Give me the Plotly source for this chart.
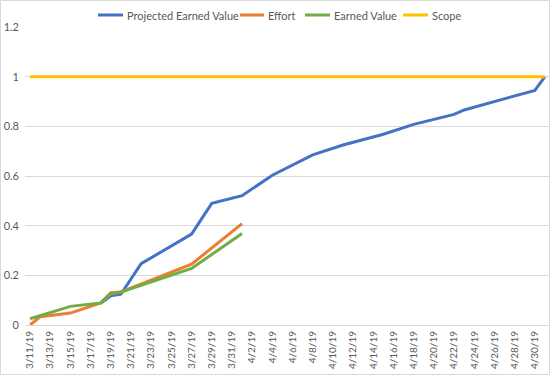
import plotly.graph_objects as go

# Projected Earned Value
pev_dates = ["2019-03-18", "2019-03-19", "2019-03-20", "2019-03-22", "2019-03-27",
             "2019-03-29", "2019-04-01", "2019-04-04", "2019-04-08", "2019-04-11",
             "2019-04-15", "2019-04-18", "2019-04-22", "2019-04-23", "2019-04-30",
             "2019-05-01"]
pev_values = [0.087, 0.118, 0.124, 0.247, 0.366, 0.490, 0.521, 0.603, 0.685, 0.725,
              0.768, 0.808, 0.848, 0.866, 0.945, 1.0]

# Effort
effort_dates = ["2019-03-11", "2019-03-12", "2019-03-15", "2019-03-18", "2019-03-19",
                "2019-03-20", "2019-03-27", "2019-04-01"]
effort_values = [0.0, 0.033, 0.048, 0.089, 0.130, 0.133, 0.245, 0.408]

# Earned Value
ev_dates = ["2019-03-11", "2019-03-15", "2019-03-18", "2019-03-19", "2019-03-20",
            "2019-03-27", "2019-04-01"]
ev_values = [0.025, 0.075, 0.089, 0.125, 0.133, 0.228, 0.368]

# Scope
scope_dates = ["2019-03-11", "2019-05-01"]
scope_values = [1.0, 1.0]

series_names = ["Projected Earned Value", "Effort", "Earned Value", "Scope"]
colors = ["#4472C4", "#ED7D31", "#70AD47", "#FFC000"]

# plot-area geometry (pixels)
L, T, W, H = 25, 27, 525, 298

fig = go.Figure()
for name, xs, ys, c in zip(series_names,
                           [pev_dates, effort_dates, ev_dates, scope_dates],
                           [pev_values, effort_values, ev_values, scope_values],
                           colors):
    fig.add_trace(go.Scatter(x=xs, y=ys, mode="lines", name=name,
                             line=dict(color=c, width=3), showlegend=False))

font = dict(family="Lato, 'Open Sans', sans-serif", size=11, color="#595959")
xfont = dict(family="Lato, 'Open Sans', sans-serif", size=10, color="#595959")

# custom legend (Excel-style short line keys)
legend_px = [(98, 123), (240, 264), (305, 330), (403, 428)]
leg_y = 1 + (T - 15) / H
shapes = [dict(type="rect", xref="paper", yref="paper",
               x0=-(L - 0.5) / W, x1=(W - 0.5) / W, y0=-(375 - T - H - 0.5) / H,
               y1=1 + (T - 0.5) / H,
               line=dict(color="#D9D9D9", width=1), layer="below")]
annotations = []
for name, c, (x0, x1) in zip(series_names, colors, legend_px):
    shapes.append(dict(type="line", xref="paper", yref="paper",
                       x0=(x0 - L) / W, x1=(x1 - L) / W, y0=leg_y, y1=leg_y,
                       line=dict(color=c, width=3)))
    annotations.append(dict(xref="paper", yref="paper", x=(x1 + 2 - L) / W, y=leg_y,
                            xanchor="left", yanchor="middle", text=name,
                            showarrow=False, font=font))

fig.update_layout(
    width=550, height=375,
    margin=dict(l=L, r=550 - L - W, t=T, b=375 - T - H, autoexpand=False),
    paper_bgcolor="white", plot_bgcolor="white",
    font=font,
    showlegend=False,
    xaxis=dict(
        type="date",
        range=["2019-03-10 12:00", "2019-05-01 12:00"],
        tick0="2019-03-11", dtick=2 * 86400000,
        tickformat="%-m/%-d/%y", tickangle=-90,
        showgrid=False, zeroline=False, showline=False,
        ticks="", tickfont=xfont, automargin=False, ticklabelstandoff=3,
    ),
    yaxis=dict(
        range=[0, 1.2], dtick=0.2,
        showgrid=True, gridcolor="#D9D9D9", gridwidth=1,
        zeroline=True, zerolinecolor="#D9D9D9", zerolinewidth=1,
        showline=False, ticks="", tickfont=font, automargin=False,
        ticklabelstandoff=5,
    ),
    shapes=shapes,
    annotations=annotations,
)

fig.write_html("out.html", config={"displayModeBar": False},
               post_script="document.body.style.margin='0';document.body.style.overflow='hidden';")
